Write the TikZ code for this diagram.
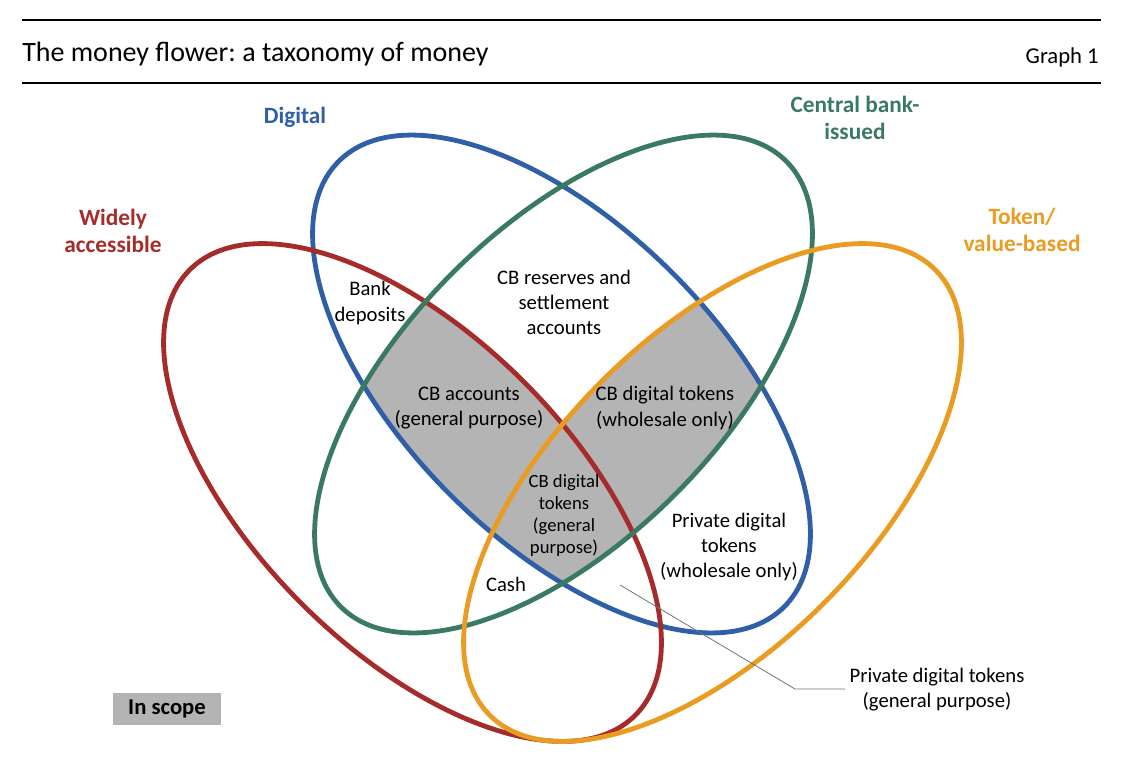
\documentclass[tikz,border=0pt]{standalone}
\usepackage{fontspec}
\setmainfont{Carlito}
\usetikzlibrary{positioning}
\definecolor{wideRed}{HTML}{A62B2B}
\definecolor{digiBlue}{HTML}{2F5FA7}
\definecolor{cbGreen}{HTML}{3A7A62}
\definecolor{tokOrange}{HTML}{E99B22}
\definecolor{scopeGray}{HTML}{B4B4B4}
\frenchspacing
\begin{document}
\begin{tikzpicture}[x=0.75pt, y=-0.75pt,
         petal/.style = {line width=3.6pt},
         rule/.style = {line width=1.5pt},
         setlabel/.style = {font=\bfseries\fontsize{17.5}{20.5}\selectfont, align=center},
         region/.style = {font=\fontsize{15.5}{18.8}\selectfont, align=center},
         small/.style = {font=\fontsize{14}{16.5}\selectfont, align=center},
         leader/.style = {draw=black!55, line width=0.6pt}
]
      \useasboundingbox (0,0) rectangle (1126,764);

      % header
      \draw[rule] (22,20) -- (1101,20);
      \draw[rule] (22,83) -- (1101,83);
      \node[anchor=base west, inner sep=0, font=\fontsize{21}{25}\selectfont]
         (title) at (22,61) {The money flower: a taxonomy of money};
      \node[anchor=base east, inner sep=0, font=\fontsize{17}{20}\selectfont]
         (graph) at (1099,63) {Graph 1};

      % petal centres
      \coordinate (wide)    at (412.5,492.5);
      \coordinate (digital) at (561.5,384);
      \coordinate (cbank)   at (563.5,384);
      \coordinate (token)   at (712.5,492.5);

      % in scope areas
      \begin{scope}
         \clip[rotate around={-45:(digital)}] (digital) ellipse [x radius=315, y radius=157];
         \clip[rotate around={45:(cbank)}] (cbank) ellipse [x radius=315, y radius=157];
         \fill[scopeGray, rotate around={-45:(wide)}] (wide) ellipse [x radius=315, y radius=157];
         \fill[scopeGray, rotate around={45:(token)}] (token) ellipse [x radius=315, y radius=157];
      \end{scope}

      % petals
      \draw[petal, digiBlue, rotate around={-45:(digital)}] (digital) ellipse [x radius=315, y radius=157];
      \draw[petal, wideRed, rotate around={-45:(wide)}] (wide) ellipse [x radius=315, y radius=157];
      \draw[petal, cbGreen, rotate around={45:(cbank)}] (cbank) ellipse [x radius=315, y radius=157];
      \draw[petal, tokOrange, rotate around={45:(token)}] (token) ellipse [x radius=315, y radius=157];

      % set names
      \node[setlabel, text=wideRed]   (wideLbl)  at (113,231) {Widely\\accessible};
      \node[setlabel, text=digiBlue]  (digiLbl)  at (295,117) {Digital};
      \node[setlabel, text=cbGreen]   (cbLbl)    at (855,118) {Central bank-\\issued};
      \node[setlabel, text=tokOrange] (tokLbl)   at (1022,230) {Token/\\value-based};

      % regions
      \node[region] (deposits) at (370,303) {Bank\\deposits};
      \node[region] (reserves) at (564,302) {CB reserves and\\settlement\\accounts};
      \node[region] (cbacc)    at (469,408) {CB accounts\\(general purpose)};
      \node[region] (cbwhole)  at (665,408) {CB digital tokens\\(wholesale only)};
      \node[small]  (cbgen)    at (564,516) {CB digital\\tokens\\(general\\purpose)};
      \node[region] (cash)     at (506,584) {Cash};
      \node[region] (pvwhole)  at (729,547) {Private digital\\tokens\\(wholesale only)};

      % private general purpose
      \node[region] (pvgen) at (937,690) {Private digital tokens\\(general purpose)};
      \coordinate (pvStart) at (620,585);
      \coordinate (pvBend)  at (795,689);
      \draw[leader] (pvStart) -- (pvBend) -- (pvgen.west |- pvBend);

      % legend
      \node[draw=black!30, fill=scopeGray, line width=1pt, minimum width=106*0.75pt,
         minimum height=30*0.75pt, font=\bfseries\fontsize{17}{20}\selectfont]
         (scope) at (167,709) {In scope};
\end{tikzpicture}
\end{document}
